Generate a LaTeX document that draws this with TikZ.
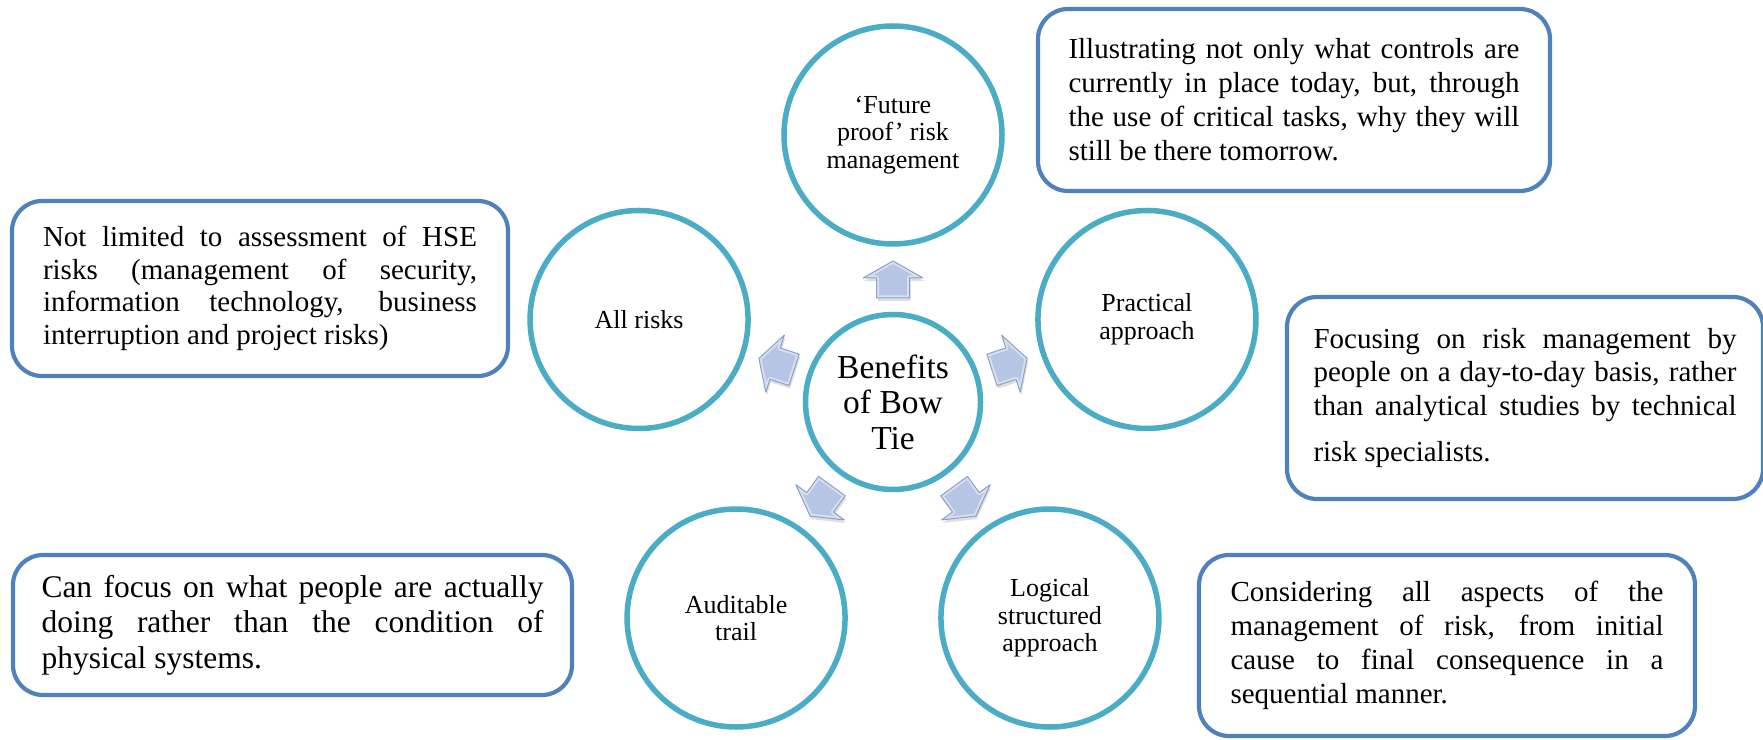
\documentclass[tikz,border=0pt]{standalone}
\usepackage{fontspec}
\setmainfont{Liberation Serif}
\definecolor{circblue}{RGB}{75,172,198}
\definecolor{boxblue}{RGB}{79,129,189}
\definecolor{arrfill}{RGB}{182,197,227}
\definecolor{arredge}{RGB}{140,160,200}
\newcommand{\jline}[2]{\makebox[#1][s]{#2}}
\newcommand{\arrowshape}{(104,-16.5) -- (124,-16.5) -- (124,-30) -- (141,0) -- (124,30) -- (124,16.5) -- (104,16.5) -- cycle}
\begin{document}
\begin{tikzpicture}[x=1pt,y=1pt,
  outer/.style={circle, draw=circblue, line width=5.5pt, minimum size=218pt, inner sep=0pt, align=center, font=\fontsize{26}{27.5}\selectfont},
  hub/.style={circle, draw=circblue, line width=5.5pt, minimum size=175pt, inner sep=0pt, align=center, font=\fontsize{33.5}{35.5}\selectfont},
  infobox/.style={draw=boxblue, line width=4.2pt, rounded corners=30pt, inner sep=0pt, align=left},
  arrbody/.style={fill=arrfill},
  arrbevel/.style={draw=white, opacity=0.45, line width=5pt, line join=round},
  arredgeline/.style={draw=arredge, line width=1pt, line join=round},
  arrshadow/.style={fill=black, opacity=0.13}]
\useasboundingbox (0,0) rectangle (1763,739);
\fill[white] (0,0) rectangle (1763,739);
% hub and outer circles
\node[hub] (c) at (893,337) {Benefits\\of Bow\\Tie};
\node[outer] (fut) at ([shift={(90:267)}]c.center) {‘Future\\proof’ risk\\management};
\node[outer] (pra) at ([shift={(18:267)}]c.center) {Practical\\approach};
\node[outer] (log) at ([shift={(-54:267)}]c.center) {Logical\\structured\\approach};
\node[outer] (aud) at ([shift={(-126:267)}]c.center) {Auditable\\trail};
\node[outer] (all) at ([shift={(162:267)}]c.center) {All risks};
% block arrows
\foreach \a in {90,18,-54,-126,162}{
  \begin{scope}[shift={(c.center)}, xshift=1pt, yshift=-3pt, rotate=\a]
    \fill[arrshadow] \arrowshape;
  \end{scope}
  \begin{scope}[shift={(c.center)}, rotate=\a]
    \fill[arrbody] \arrowshape;
    \begin{scope}
      \clip \arrowshape;
      \draw[arrbevel] \arrowshape;
    \end{scope}
    \draw[arredgeline] \arrowshape;
  \end{scope}
}
% text boxes
\node[infobox, minimum width=512pt, minimum height=182pt, font=\fontsize{29}{34}\selectfont] (b1) at (1294,639)
 {\jline{451pt}{Illustrating not only what controls are}\\
  \jline{451pt}{currently in place today, but, through}\\
  \jline{451pt}{the use of critical tasks, why they will}\\
  still be there tomorrow.};
\node[infobox, minimum width=496pt, minimum height=175pt, font=\fontsize{29}{32.7}\selectfont] (b2) at (260,450.5)
 {\jline{434pt}{Not limited to assessment of HSE}\\
  \jline{434pt}{risks (management of security,}\\
  \jline{434pt}{information technology, business}\\
  interruption and project risks)};
\node[infobox, minimum width=476pt, minimum height=202pt, font=\fontsize{29}{33.5}\selectfont] (b3) at (1525,341)
 {\jline{423pt}{Focusing on risk management by}\\
  \jline{423pt}{people on a day-to-day basis, rather}\\
  \jline{423pt}{than analytical studies by technical}\\[13pt]
  risk specialists.};
\node[infobox, minimum width=559pt, minimum height=140pt, font=\fontsize{31.5}{35.5}\selectfont] (b4) at (292.5,114)
 {\jline{502pt}{Can focus on what people are actually}\\
  \jline{502pt}{doing rather than the condition of}\\
  physical systems.};
\node[infobox, minimum width=496pt, minimum height=181pt, font=\fontsize{29}{34}\selectfont] (b5) at (1447,93.5)
 {\jline{433pt}{Considering all aspects of the}\\
  \jline{433pt}{management of risk, from initial}\\
  \jline{433pt}{cause to final consequence in a}\\
  sequential manner.};
\end{tikzpicture}
\end{document}
